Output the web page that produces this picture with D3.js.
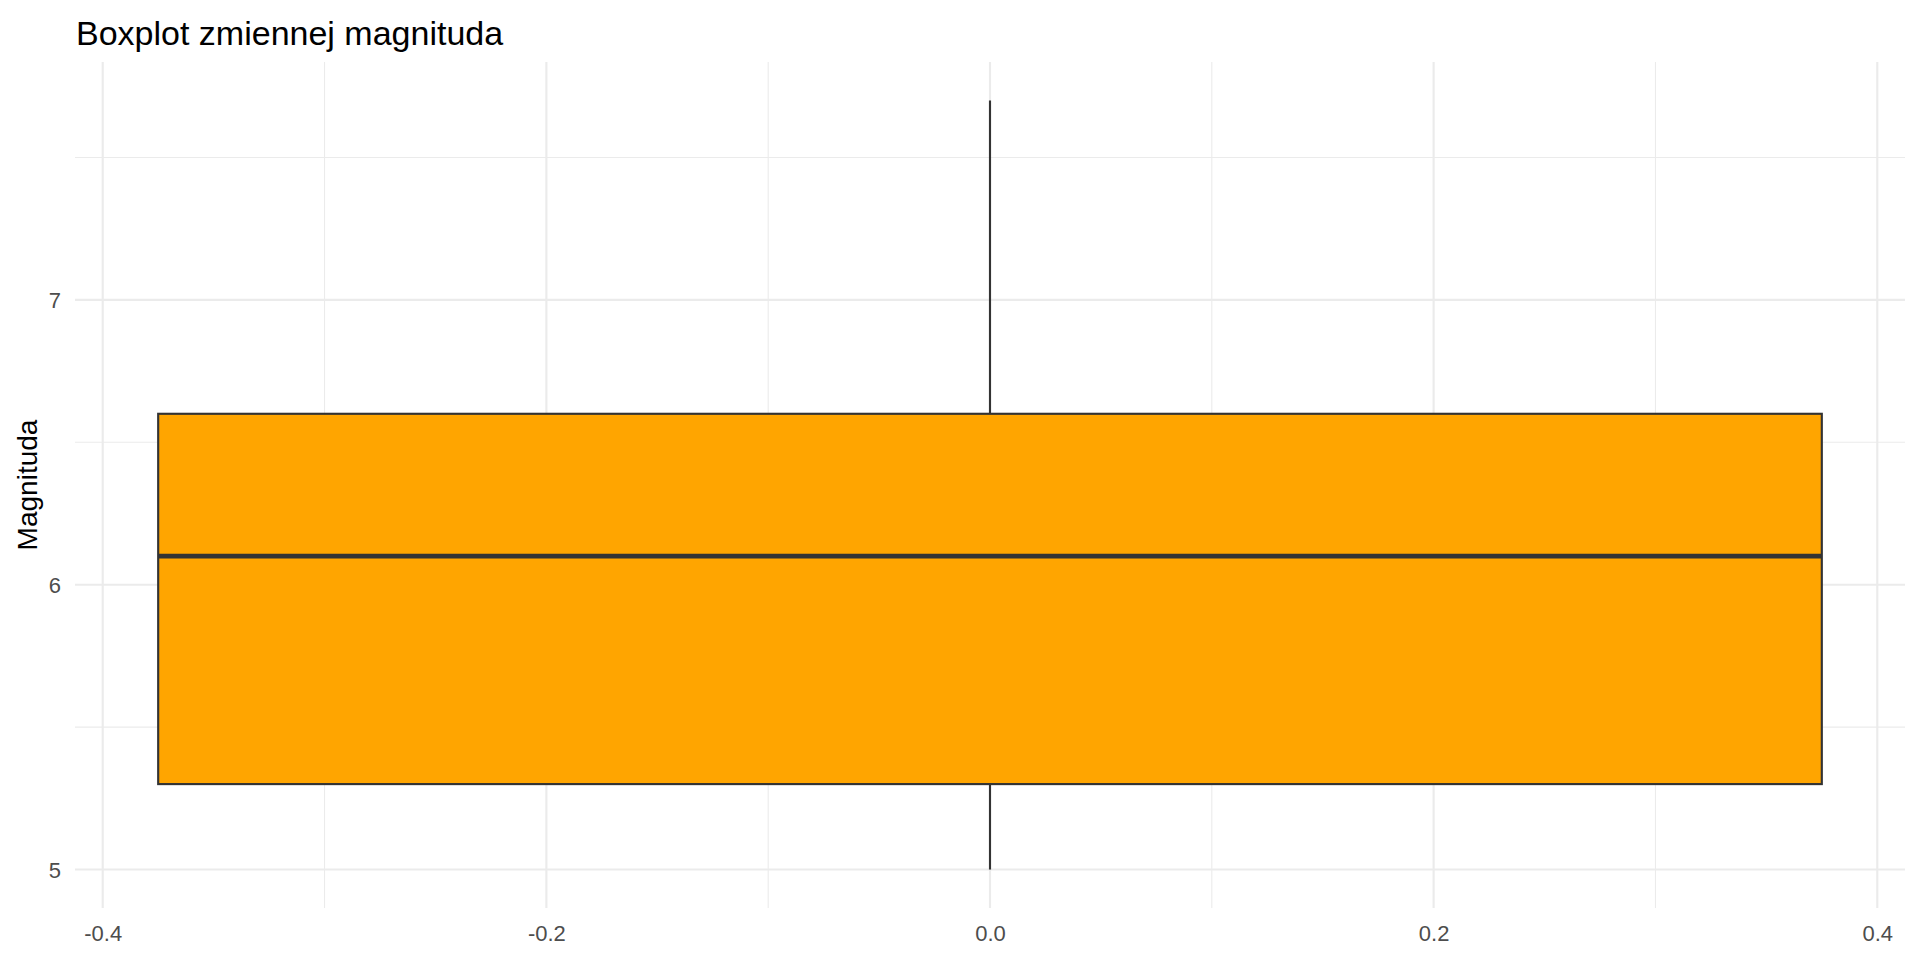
<!DOCTYPE html>
<html>
<head>
<meta charset="utf-8">
<script src="https://cdn.jsdelivr.net/npm/d3@7"></script>
<style>
  html, body { margin: 0; padding: 0; background: #ffffff; }
  svg { display: block; font-family: "Liberation Sans", Arial, sans-serif; }
</style>
</head>
<body>
<svg id="chart" width="1920" height="960"></svg>
<script>
// ---- data ----
const title = "Boxplot zmiennej magnituda";
const yLabel = "Magnituda";
const boxStats = [5.0, 5.3, 6.1, 6.6, 7.7]; // min, Q1, median, Q3, max
const boxCenter = [0];
const boxWidth = [0.75];
const xTicks = [-0.4, -0.2, 0.0, 0.2, 0.4];
const xTickLabels = ["-0.4", "-0.2", "0.0", "0.2", "0.4"];
const xMinor = [-0.3, -0.1, 0.1, 0.3];
const yTicks = [5, 6, 7];
const yTickLabels = ["5", "6", "7"];
const yMinor = [5.5, 6.5, 7.5];

// ---- layout ----
const svg = d3.select("#chart");
const panel = { left: 75, right: 1905, top: 62, bottom: 908 };

const xHalf = boxWidth[0] / 2;
const xExp = boxWidth[0] * 0.05;
const x = d3.scaleLinear()
  .domain([boxCenter[0] - xHalf - xExp, boxCenter[0] + xHalf + xExp])
  .range([panel.left, panel.right]);
const yRange = boxStats[4] - boxStats[0];
const y = d3.scaleLinear()
  .domain([boxStats[0] - yRange * 0.05, boxStats[4] + yRange * 0.05])
  .range([panel.bottom, panel.top]);

const grid = svg.append("g");
// minor grid
grid.selectAll(".xminor").data(xMinor).join("line")
  .attr("x1", d => x(d)).attr("x2", d => x(d))
  .attr("y1", panel.top).attr("y2", panel.bottom)
  .attr("stroke", "#ebebeb").attr("stroke-width", 1.07);
grid.selectAll(".yminor").data(yMinor).join("line")
  .attr("y1", d => y(d)).attr("y2", d => y(d))
  .attr("x1", panel.left).attr("x2", panel.right)
  .attr("stroke", "#ebebeb").attr("stroke-width", 1.07);
// major grid
grid.selectAll(".xmajor").data(xTicks).join("line")
  .attr("x1", d => x(d)).attr("x2", d => x(d))
  .attr("y1", panel.top).attr("y2", panel.bottom)
  .attr("stroke", "#ebebeb").attr("stroke-width", 2.13);
grid.selectAll(".ymajor").data(yTicks).join("line")
  .attr("y1", d => y(d)).attr("y2", d => y(d))
  .attr("x1", panel.left).attr("x2", panel.right)
  .attr("stroke", "#ebebeb").attr("stroke-width", 2.13);

// ---- boxplot ----
const bx = svg.append("g");
const [mn, q1, med, q3, mx] = boxStats;
const cx = x(boxCenter[0]);
bx.append("line")
  .attr("x1", cx).attr("x2", cx).attr("y1", y(q3)).attr("y2", y(mx))
  .attr("stroke", "#333333").attr("stroke-width", 2.13);
bx.append("line")
  .attr("x1", cx).attr("x2", cx).attr("y1", y(q1)).attr("y2", y(mn))
  .attr("stroke", "#333333").attr("stroke-width", 2.13);
bx.append("rect")
  .attr("x", x(boxCenter[0] - xHalf))
  .attr("y", y(q3))
  .attr("width", x(boxCenter[0] + xHalf) - x(boxCenter[0] - xHalf))
  .attr("height", y(q1) - y(q3))
  .attr("fill", "#FFA500")
  .attr("stroke", "#333333").attr("stroke-width", 2.13);
bx.append("line")
  .attr("x1", x(boxCenter[0] - xHalf)).attr("x2", x(boxCenter[0] + xHalf))
  .attr("y1", y(med)).attr("y2", y(med))
  .attr("stroke", "#333333").attr("stroke-width", 4.8);

// ---- axes text ----
const xAxis = d3.axisBottom(x).tickValues(xTicks).tickFormat((d, i) => xTickLabels[i]).tickSize(0).tickPadding(0);
const gx = svg.append("g").attr("transform", `translate(0, ${panel.bottom})`).call(xAxis);
gx.select(".domain").remove();
gx.selectAll("text").attr("dy", null).attr("y", 33)
  .attr("fill", "#4d4d4d").style("font-size", "22px")
  .style("font-family", '"Liberation Sans", Arial, sans-serif');

const yAxis = d3.axisLeft(y).tickValues(yTicks).tickFormat((d, i) => yTickLabels[i]).tickSize(0).tickPadding(0);
const gy = svg.append("g").attr("transform", `translate(${panel.left - 14}, 0)`).call(yAxis);
gy.select(".domain").remove();
gy.selectAll("text").attr("dy", "0.36em").attr("x", 0)
  .attr("fill", "#4d4d4d").style("font-size", "22px")
  .style("font-family", '"Liberation Sans", Arial, sans-serif');

// y axis title
svg.append("text")
  .attr("transform", `translate(37, ${(panel.top + panel.bottom) / 2}) rotate(-90)`)
  .attr("text-anchor", "middle")
  .attr("fill", "#000000")
  .style("font-size", "28px")
  .text(yLabel);

// title
svg.append("text")
  .attr("x", panel.left + 1)
  .attr("y", 45)
  .attr("fill", "#000000")
  .style("font-size", "34px")
  .text(title);
</script>
</body>
</html>
